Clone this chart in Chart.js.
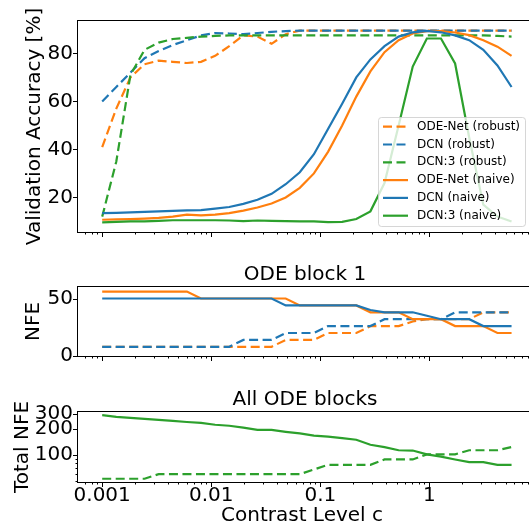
<!DOCTYPE html>
<html>
<head>
<meta charset="utf-8">
<script src="https://cdn.jsdelivr.net/npm/chart.js@4.4.0/dist/chart.umd.min.js"></script>
<style>
  body { margin: 0; width: 529px; height: 526px; overflow: hidden; background: #fff; position: relative; }
  canvas { position: absolute; left: 0; }
</style>
</head>
<body>
<canvas id="accChart" width="545" height="250" style="top:0"></canvas>
<canvas id="blockChart" width="545" height="114" style="top:259px"></canvas>
<canvas id="totalChart" width="545" height="146" style="top:380px"></canvas>
<script>
// contrast levels (x)
const contrast = [0.001, 0.001347, 0.001815, 0.002445, 0.003294, 0.004437, 0.005978, 0.008053, 0.01085, 0.01462,
    0.01969, 0.02653, 0.03574, 0.04815, 0.06486, 0.08738, 0.1177, 0.1586, 0.2137, 0.2879,
    0.3878, 0.5225, 0.7039, 0.9483, 1.2775, 1.721, 2.318, 3.123, 4.208, 5.669];

// validation accuracy [%]
const accOdeRobust = [41, 57, 70, 75.5, 77, 76.5, 76, 76.5, 79, 83, 87.5, 87, 84, 88, 89.5,
    89.5, 89.5, 89.5, 89.5, 89.5, 89.5, 89.5, 89.5, 89.5, 89.5, 89.5, 89.5, 89.5, 89.5, 89.5];
const accDcnRobust = [60, 66, 72, 78, 81, 83.5, 85.5, 87.5, 88.5, 88.3, 88, 88.5, 89, 89.3, 89.5,
    89.5, 89.5, 89.5, 89.5, 89.5, 89.5, 89.5, 89.5, 89.5, 89.5, 89.5, 89.5, 89.5, 89.5, 89.5];
const accDcn3Robust = [12, 35, 71, 81.5, 84.5, 86, 86.5, 87, 87.3, 87.5, 87.5, 87.5, 87.5, 87.5, 87.5,
    87.5, 87.5, 87.5, 87.5, 87.5, 87.5, 87.5, 87.5, 87.5, 87.5, 87.5, 87.5, 87.5, 87.3, 87];
const accOdeNaive = [10.7, 10.9, 11, 11.2, 11.5, 12, 12.8, 12.5, 12.8, 13.5, 14.5, 15.8, 17.5, 20, 24,
    30, 39, 50, 62, 72.5, 80.5, 85.5, 88.3, 89.3, 89.3, 88.7, 87.6, 85.5, 82.8, 79];
const accDcnNaive = [13.5, 13.6, 13.8, 14, 14.2, 14.4, 14.6, 14.7, 15.3, 16, 17.3, 19, 21.5, 25.5, 30.5,
    38, 48.5, 59, 70, 77.5, 83, 87, 88.8, 89.4, 88.8, 87.5, 85.5, 81.5, 75, 66];
const accDcn3Naive = [9.6, 9.8, 10, 10, 10.2, 10.5, 10.5, 10.5, 10.5, 10.4, 10.1, 10.4, 10.2, 10.1, 10,
    10, 9.7, 9.8, 11, 14.2, 26, 50, 74.5, 86.2, 86.2, 75.8, 45, 17, 12, 10];

// NFE of ODE block 1
const nfeOdeRobust = [8, 8, 8, 8, 8, 8, 8, 8, 8, 8, 8, 8, 8, 14, 14,
    14, 20, 20, 20, 26, 26, 26, 30, 32, 32, 32, 32, 38, 38, 38];
const nfeDcnRobust = [8, 8, 8, 8, 8, 8, 8, 8, 8, 8, 14, 14, 14, 20, 20,
    20, 26, 26, 26, 26, 32, 32, 32, 32, 32, 38, 38, 38, 38, 38];
const nfeOdeNaive = [56, 56, 56, 56, 56, 56, 56, 50, 50, 50, 50, 50, 50, 50, 44,
    44, 44, 44, 44, 38, 38, 38, 32, 32, 32, 26, 26, 26, 20, 20];
const nfeDcnNaive = [50, 50, 50, 50, 50, 50, 50, 50, 50, 50, 50, 50, 50, 44, 44,
    44, 44, 44, 44, 40, 38, 38, 38, 35, 32, 32, 32, 26, 26, 26];

// total NFE over all ODE blocks (DCN:3)
const totalRobust = [53, 53, 53, 53, 60, 60, 60, 60, 60, 60, 60, 60, 60, 60, 60,
    68, 77, 77, 77, 77, 89, 89, 89, 102, 102, 102, 114, 114, 114, 124];
const totalNaive = [292, 279, 272, 265, 258, 250, 243, 237, 226, 220, 209, 197, 197, 187, 179,
    169, 164, 158, 151, 132, 124, 114, 113, 102, 96, 89, 83, 83, 77, 77];

// ticks
const xTicks = [0.001, 0.01, 0.1, 1];
const xTickLabels = ['0.001', '0.01', '0.1', '1'];
const accTicks = [20, 40, 60, 80];
const accTickLabels = ['20', '40', '60', '80'];
const nfeTicks = [0, 50];
const nfeTickLabels = ['0', '50'];
const totalTicks = [100, 200, 300];
const totalTickLabels = ['100', '200', '300'];
const totalMinorTicks = [50, 60, 70, 80, 90];

const ORANGE = '#ff7f0e';
const BLUE = '#1f77b4';
const GREEN = '#2ca02c';

const xMin = 0.000649;
const xMax = 8.73;

Chart.defaults.font.family = 'DejaVu Sans';
Chart.defaults.font.size = 20;
Chart.defaults.color = '#000';
Chart.defaults.animation = false;

let xMinor = [];
for (let p = -4; p <= 0; p++) {
    for (let k = 2; k <= 9; k++) {
        const v = k * Math.pow(10, p);
        if (v > xMin && v < xMax) xMinor.push(v);
    }
}

function line(label, values, color, dashed, order) {
    return {
        label: label,
        data: contrast.map((x, i) => ({ x: x, y: values[i] })),
        borderColor: color,
        backgroundColor: color,
        borderWidth: 2.2,
        borderDash: dashed ? [9, 4.5] : [],
        pointRadius: 0,
        tension: 0,
        fill: false,
        order: order
    };
}

// frame + outward tick marks like matplotlib
const frameTicks = {
    id: 'frameTicks',
    afterDraw(chart, args, opts) {
        const { ctx, chartArea: a, scales } = chart;
        ctx.save();
        ctx.strokeStyle = '#000';
        ctx.lineWidth = 1;
        ctx.strokeRect(a.left - 0.5, a.top - 0.5, a.right - a.left + 1, a.bottom - a.top + 1);
        const xs = scales.x, ys = scales.y;
        ctx.beginPath();
        xTicks.forEach(v => { const p = Math.round(xs.getPixelForValue(v)) + 0.5; ctx.moveTo(p, a.bottom); ctx.lineTo(p, a.bottom + 5); });
        xMinor.forEach(v => { const p = Math.round(xs.getPixelForValue(v)) + 0.5; ctx.moveTo(p, a.bottom); ctx.lineTo(p, a.bottom + 2.5); });
        (opts.yMajor || []).forEach(v => { const p = Math.round(ys.getPixelForValue(v)) + 0.5; ctx.moveTo(a.left, p); ctx.lineTo(a.left - 5, p); });
        (opts.yMinor || []).forEach(v => { const p = Math.round(ys.getPixelForValue(v)) + 0.5; ctx.moveTo(a.left, p); ctx.lineTo(a.left - 2.5, p); });
        ctx.stroke();
        // x tick labels and axis title on the bottom panel only
        if (opts.xLabels) {
            ctx.fillStyle = '#000';
            ctx.font = '20px "DejaVu Sans"';
            ctx.textAlign = 'center';
            ctx.textBaseline = 'middle';
            xTicks.forEach((v, i) => ctx.fillText(xTickLabels[i], xs.getPixelForValue(v), a.bottom + 14));
            ctx.fillText('Contrast Level c', (a.left + a.right) / 2 - 3, a.bottom + 34);
        }
        ctx.restore();
    }
};

const legendBox = {
    id: 'legendBox',
    afterDatasetsDraw(chart) {
        const ctx = chart.ctx;
        ctx.save();
        ctx.beginPath();
        ctx.roundRect(378.5, 117.5, 147, 109, 3);
        ctx.fillStyle = 'rgba(255,255,255,0.8)';
        ctx.fill();
        ctx.strokeStyle = 'rgba(204,204,204,0.8)';
        ctx.lineWidth = 1;
        ctx.stroke();
        ctx.font = '12px "DejaVu Sans"';
        ctx.textBaseline = 'middle';
        chart.data.datasets.forEach((ds, i) => {
            const y = 126.7 + i * 17.8;
            ctx.strokeStyle = ds.borderColor;
            ctx.lineWidth = ds.borderWidth;
            ctx.setLineDash(ds.borderDash);
            ctx.beginPath();
            ctx.moveTo(383, y);
            ctx.lineTo(408, y);
            ctx.stroke();
            ctx.setLineDash([]);
            ctx.fillStyle = '#000';
            ctx.fillText(ds.label, 417, y);
        });
        ctx.restore();
    }
};

function xScale(height) {
    return {
        type: 'logarithmic',
        min: xMin,
        max: xMax,
        grid: { display: false, drawTicks: false },
        border: { display: false },
        afterBuildTicks: s => { s.ticks = xTicks.map(v => ({ value: v })); },
        afterFit: s => { s.height = height; },
        ticks: { display: false }
    };
}

function yScale(type, min, max, ticks, labels, title, titlePad) {
    return {
        type: type,
        min: min,
        max: max,
        grid: { display: false, drawTicks: false },
        border: { display: false },
        afterBuildTicks: s => { s.ticks = ticks.map(v => ({ value: v })); },
        afterFit: s => { s.width = 78; },
        ticks: { padding: 5, autoSkip: false, callback: (v, i) => labels[i] },
        title: { display: true, text: title, padding: { top: titlePad, bottom: 0 } }
    };
}

new Chart(document.getElementById('accChart'), {
    type: 'line',
    data: {
        datasets: [
            line('ODE-Net (robust)', accOdeRobust, ORANGE, true, 6),
            line('DCN (robust)', accDcnRobust, BLUE, true, 5),
            line('DCN:3 (robust)', accDcn3Robust, GREEN, true, 4),
            line('ODE-Net (naive)', accOdeNaive, ORANGE, false, 3),
            line('DCN (naive)', accDcnNaive, BLUE, false, 2),
            line('DCN:3 (naive)', accDcn3Naive, GREEN, false, 1)
        ]
    },
    options: {
        responsive: false,
        layout: { padding: { top: 21, right: 13, left: 0, bottom: 0 } },
        plugins: { legend: { display: false }, tooltip: { enabled: false }, frameTicks: { yMajor: accTicks } },
        scales: {
            x: xScale(18),
            y: yScale('linear', 5.6, 93.5, accTicks, accTickLabels, 'Validation Accuracy [%]', 23)
        }
    },
    plugins: [frameTicks, legendBox]
});

new Chart(document.getElementById('blockChart'), {
    type: 'line',
    data: {
        datasets: [
            line('ODE-Net (robust)', nfeOdeRobust, ORANGE, true, 4),
            line('DCN (robust)', nfeDcnRobust, BLUE, true, 3),
            line('ODE-Net (naive)', nfeOdeNaive, ORANGE, false, 2),
            line('DCN (naive)', nfeDcnNaive, BLUE, false, 1)
        ]
    },
    options: {
        responsive: false,
        layout: { padding: { top: 0, right: 13, left: 0, bottom: 0 } },
        plugins: {
            legend: { display: false }, tooltip: { enabled: false },
            title: { display: true, text: 'ODE block 1', fullSize: false, font: { size: 20, weight: 'normal' }, padding: { top: 4, bottom: 0 } },
            frameTicks: { yMajor: nfeTicks }
        },
        scales: {
            x: xScale(16),
            y: yScale('linear', 0, 60, nfeTicks, nfeTickLabels, 'NFE', 22)
        }
    },
    plugins: [frameTicks]
});

new Chart(document.getElementById('totalChart'), {
    type: 'line',
    data: {
        datasets: [
            line('DCN:3 (robust)', totalRobust, GREEN, true, 2),
            line('DCN:3 (naive)', totalNaive, GREEN, false, 1)
        ]
    },
    options: {
        responsive: false,
        layout: { padding: { top: 0, right: 13, left: 0, bottom: 0 } },
        plugins: {
            legend: { display: false }, tooltip: { enabled: false },
            title: { display: true, text: 'All ODE blocks', fullSize: false, font: { size: 20, weight: 'normal' }, padding: { top: 8, bottom: 0 } },
            frameTicks: { yMajor: totalTicks, yMinor: totalMinorTicks, xLabels: true }
        },
        scales: {
            x: xScale(44),
            y: yScale('logarithmic', 48.6, 318, totalTicks, totalTickLabels, 'Total NFE', 11)
        }
    },
    plugins: [frameTicks]
});
</script>
</body>
</html>
